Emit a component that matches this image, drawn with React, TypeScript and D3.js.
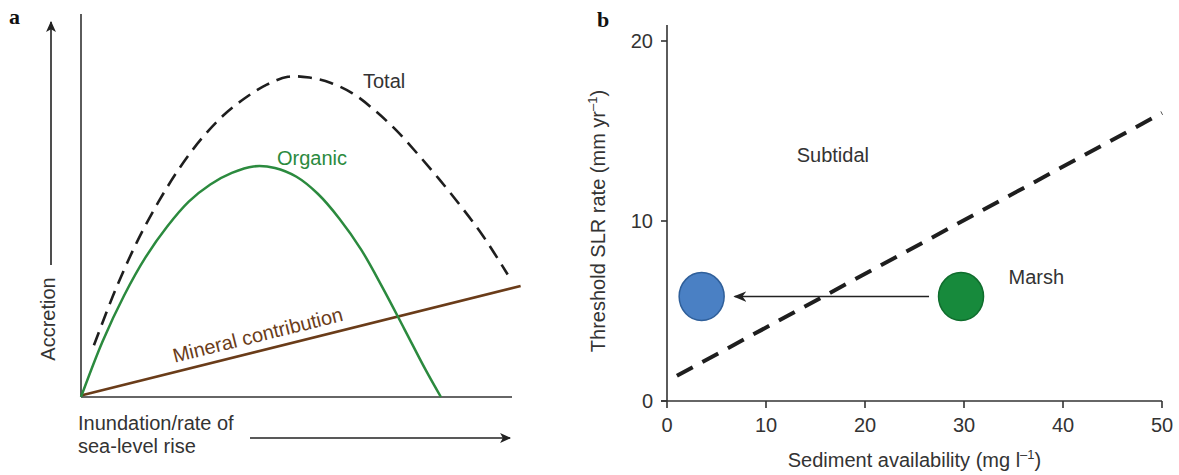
import * as d3 from "d3";

// ---- panel a (conceptual, arbitrary units 0-100) ----
const totalX = [3, 8, 13, 18, 23, 28, 33, 38, 43, 48, 53, 58, 63, 68, 73, 78, 83, 88, 93, 99];
const totalY = [13.5, 28, 40.5, 51, 60, 67.5, 73.5, 78, 81.5, 83.6, 83.4, 82, 79.3, 75, 69.8, 63.6, 57, 50, 42.5, 32];
const organicX = [0, 5, 10, 15, 20, 25, 30, 35, 40, 45, 50, 55, 60, 65, 70, 75, 80, 83.5];
const organicY = [0, 14.5, 26.5, 36.5, 44.5, 51, 55.5, 58.5, 60.2, 59.8, 57.5, 53, 46.5, 38.5, 28.5, 17.8, 7, 0];
const mineralX = [0, 102];
const mineralY = [0.4, 29];

// ---- panel b ----
const sedimentTicks = [0, 10, 20, 30, 40, 50];
const slrTicks = [0, 10, 20];
const thresholdX = [1, 50];
const thresholdY = [1.4, 16.0];
const marshSite = { sediment: 29.7, slr: 5.8 };
const subtidalSite = { sediment: 3.5, slr: 5.8 };

const FONT = "'Liberation Sans', Arial, sans-serif";
const TEXT = "#333";

const A = { left: 81, right: 512, top: 14, bottom: 397 };
const B = { left: 667, right: 1162, top: 41, bottom: 401, axisTop: 25 };

const zip = (xs: number[], ys: number[]) => xs.map((x, i) => [x, ys[i]] as [number, number]);

export default function App() {
  const xa = d3.scaleLinear().domain([0, 100]).range([A.left, A.right]);
  const ya = d3.scaleLinear().domain([0, 100]).range([A.bottom, A.top]);
  const curve = d3
    .line<[number, number]>()
    .x((d) => xa(d[0]))
    .y((d) => ya(d[1]))
    .curve(d3.curveCatmullRom.alpha(0.5));
  const straight = d3
    .line<[number, number]>()
    .x((d) => xa(d[0]))
    .y((d) => ya(d[1]));

  const xb = d3.scaleLinear().domain([0, 50]).range([B.left, B.right]);
  const yb = d3.scaleLinear().domain([0, 20]).range([B.bottom, B.top]);

  // label along the mineral line
  const mx0 = xa(mineralX[0]), my0 = ya(mineralY[0]);
  const mx1 = xa(mineralX[1]), my1 = ya(mineralY[1]);
  const angle = (Math.atan2(my1 - my0, mx1 - mx0) * 180) / Math.PI;
  const t = 0.218;
  const lx = mx0 + (mx1 - mx0) * t;
  const ly = my0 + (my1 - my0) * t;

  const arrowStart = xb(marshSite.sediment) - 32;
  const arrowEnd = xb(subtidalSite.sediment) + 33;

  return (
    <svg
      width={1179}
      height={475}
      style={{ position: "fixed", left: 0, top: 0, background: "#fff" }}
      fontFamily={FONT}
    >
      <defs>
        <marker id="head" viewBox="0 0 10 10" refX="9" refY="5" markerWidth="11" markerHeight="11" markerUnits="userSpaceOnUse" orient="auto">
          <path d="M0,0.5 L10,5 L0,9.5 L2.5,5 Z" fill="#222" />
        </marker>
        <marker id="headB" viewBox="0 0 10 10" refX="9" refY="5" markerWidth="13" markerHeight="13" markerUnits="userSpaceOnUse" orient="auto">
          <path d="M0,1 L10,5 L0,9 L3,5 Z" fill="#222" />
        </marker>
      </defs>

      {/* ---------- panel a ---------- */}
      <text x={9} y={24} fontFamily="'Liberation Serif', serif" fontWeight="bold" fontSize={22} fill="#111">a</text>

      <line x1={A.left} y1={A.top} x2={A.left} y2={A.bottom} stroke="#333" strokeWidth={1.6} />
      <line x1={A.left} y1={A.bottom} x2={A.right} y2={A.bottom} stroke="#333" strokeWidth={1.6} />

      <line x1={51} y1={265} x2={51} y2={22} stroke="#222" strokeWidth={1.6} markerEnd="url(#head)" />
      <text transform={`translate(55,319) rotate(-90)`} textAnchor="middle" fontSize={20} fill={TEXT}>Accretion</text>

      <line x1={250} y1={438} x2={510} y2={438} stroke="#222" strokeWidth={1.6} markerEnd="url(#head)" />
      <text x={78} y={430} fontSize={20} fill={TEXT}>Inundation/rate of</text>
      <text x={78} y={453} fontSize={20} fill={TEXT}>sea-level rise</text>

      <path d={straight(zip(mineralX, mineralY)) || ""} fill="none" stroke="#6a3c19" strokeWidth={2.6} />
      <path d={curve(zip(organicX, organicY)) || ""} fill="none" stroke="#2b8a3e" strokeWidth={2.5} />
      <path d={curve(zip(totalX, totalY)) || ""} fill="none" stroke="#1e1e1e" strokeWidth={2.6} strokeDasharray="14,8" />

      <text x={363} y={88} fontSize={20} fill={TEXT}>Total</text>
      <text x={277} y={165} fontSize={20} fill="#2b8a3e">Organic</text>
      <text
        transform={`translate(${lx},${ly}) rotate(${angle}) translate(0,-9)`}
        fontSize={20}
        fill="#6a3c19"
      >
        Mineral contribution
      </text>

      {/* ---------- panel b ---------- */}
      <text x={597} y={27} fontFamily="'Liberation Serif', serif" fontWeight="bold" fontSize={22} fill="#111">b</text>

      <line x1={B.left} y1={B.axisTop} x2={B.left} y2={B.bottom} stroke="#333" strokeWidth={1.6} />
      <line x1={B.left - 6} y1={B.bottom} x2={B.right} y2={B.bottom} stroke="#333" strokeWidth={1.6} />
      {slrTicks.map((v) => (
        <g key={"y" + v}>
          <line x1={B.left - 6} x2={B.left} y1={yb(v)} y2={yb(v)} stroke="#333" strokeWidth={1.6} />
          <text x={B.left - 14} y={yb(v) + 7} textAnchor="end" fontSize={20} fill={TEXT}>{v}</text>
        </g>
      ))}
      {sedimentTicks.map((v) => (
        <g key={"x" + v}>
          <line x1={xb(v)} x2={xb(v)} y1={B.bottom} y2={B.bottom + 7} stroke="#333" strokeWidth={1.6} />
          <text x={xb(v)} y={432} textAnchor="middle" fontSize={20} fill={TEXT}>{v}</text>
        </g>
      ))}

      <text x={(B.left + B.right) / 2} y={467} textAnchor="middle" fontSize={20} fill={TEXT}>
        Sediment availability (mg l<tspan dy={-8} fontSize={13}>–1</tspan><tspan dy={8}>)</tspan>
      </text>
      <text transform={`translate(605,${yb(10)}) rotate(-90)`} textAnchor="middle" fontSize={20} fill={TEXT}>
        Threshold SLR rate (mm yr<tspan dy={-8} fontSize={13}>–1</tspan><tspan dy={8}>)</tspan>
      </text>

      <line
        x1={xb(thresholdX[0])}
        y1={yb(thresholdY[0])}
        x2={xb(thresholdX[1])}
        y2={yb(thresholdY[1])}
        stroke="#1e1e1e"
        strokeWidth={4}
        strokeDasharray="18,11"
      />

      <line
        x1={arrowStart}
        y1={yb(marshSite.slr)}
        x2={arrowEnd}
        y2={yb(subtidalSite.slr)}
        stroke="#222"
        strokeWidth={1.5}
        markerEnd="url(#headB)"
      />
      <ellipse cx={xb(subtidalSite.sediment)} cy={yb(subtidalSite.slr)} rx={22.5} ry={24} fill="#4a80c4" stroke="#2f5f9a" strokeWidth={1.5} />
      <ellipse cx={xb(marshSite.sediment)} cy={yb(marshSite.slr)} rx={22.5} ry={24} fill="#178a3c" stroke="#0f6d2d" strokeWidth={1.5} />

      <text x={xb(13.1)} y={yb(13.3)} fontSize={20} fill={TEXT}>Subtidal</text>
      <text x={xb(34.5)} y={yb(6.5)} fontSize={20} fill={TEXT}>Marsh</text>
    </svg>
  );
}
